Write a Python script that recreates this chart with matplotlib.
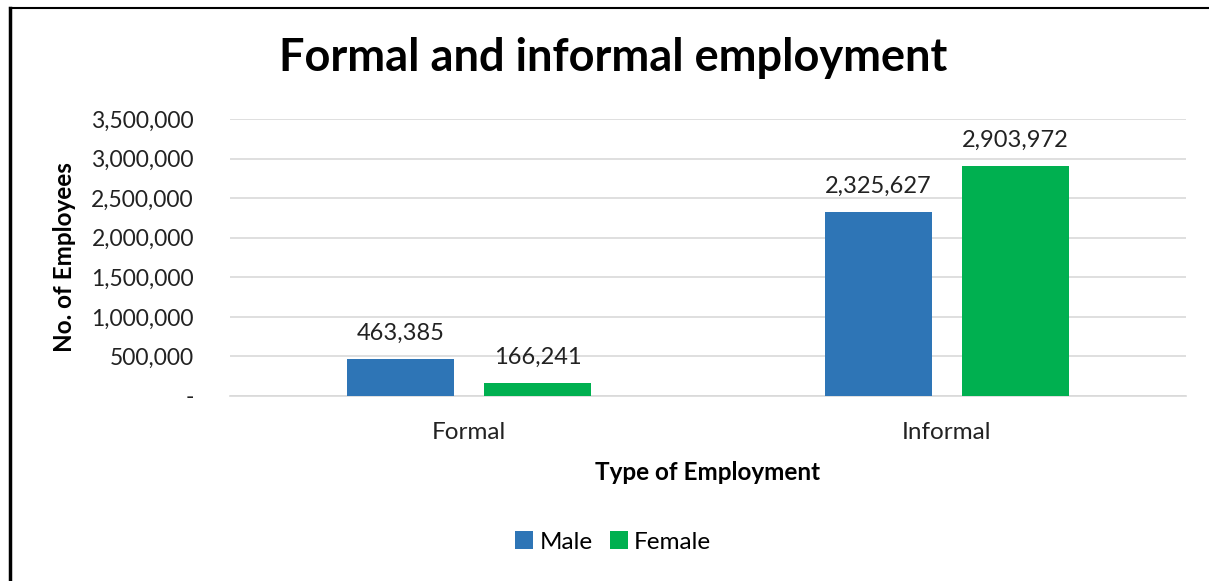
import numpy as np
import matplotlib.pyplot as plt
from matplotlib.lines import Line2D
from matplotlib.ticker import FuncFormatter

plt.rcParams['font.family'] = ['Lato', 'DejaVu Sans']

categories = ["Formal", "Informal"]
series_names = ["Male", "Female"]
male = [463385, 2325627]
female = [166241, 2903972]
colors = ["#2E75B6", "#00B050"]
y_ticks = [0, 500000, 1000000, 1500000, 2000000, 2500000, 3000000, 3500000]

fig = plt.figure(figsize=(12.09, 5.81), dpi=100)
ax = fig.add_axes([230 / 1209, 1 - 396 / 581, 956 / 1209, 277 / 581])

x = np.arange(len(categories))
width = 0.224
offset = 0.143
bars_m = ax.bar(x - offset, male, width, color=colors[0], label=series_names[0], zorder=3)
bars_f = ax.bar(x + offset, female, width, color=colors[1], label=series_names[1], zorder=3)

for bars in (bars_m, bars_f):
    for b in bars:
        v = b.get_height()
        ax.annotate(f"{v:,.0f}", (b.get_x() + b.get_width() / 2, v),
                    xytext=(0, 11), textcoords="offset points",
                    ha="center", va="bottom", fontsize=17, color="#222222")

ax.set_xlim(-0.5, 1.5)
ax.set_ylim(0, 3500000)
ax.set_yticks(y_ticks)
ax.yaxis.set_major_formatter(FuncFormatter(lambda v, p: "-" if v == 0 else f"{v:,.0f}"))
ax.set_xticks(x)
ax.set_xticklabels(categories)
ax.tick_params(axis="both", length=0, colors="#222222")
ax.tick_params(axis="y", pad=26, labelsize=16.5)
ax.tick_params(axis="x", pad=19, labelsize=17.5)
ax.grid(axis="y", color="#D9D9D9", linewidth=1.2, zorder=0)
for s in ["top", "right", "left"]:
    ax.spines[s].set_visible(False)
ax.spines["bottom"].set_color("#D9D9D9")
ax.spines["bottom"].set_linewidth(1.2)

ax.set_xlabel("Type of Employment", fontsize=17.5, fontweight="bold", labelpad=13)
ax.set_ylabel("No. of Employees", fontsize=17.5, fontweight="bold", labelpad=11)

fig.text(613 / 1209, 1 - 58 / 581, "Formal and informal employment",
         ha="center", va="center", fontsize=32.5, fontweight="bold")

fig.legend(loc="center", bbox_to_anchor=(613 / 1209, 1 - 542 / 581), ncol=2,
           frameon=False, fontsize=17.5, handlelength=0.75, handleheight=0.75,
           handletextpad=0.25, columnspacing=0.7)

# frame lines on the left and top edge
fig.add_artist(Line2D([10 / 1209, 10 / 1209], [0, 1 - 8 / 581], color="black", linewidth=2.5))
fig.add_artist(Line2D([10 / 1209, 1], [1 - 8 / 581, 1 - 8 / 581], color="black", linewidth=1.5))

fig.savefig("out.png", dpi=100)
